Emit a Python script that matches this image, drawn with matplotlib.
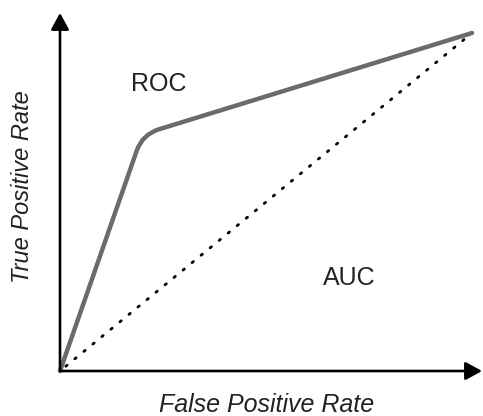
import matplotlib
matplotlib.use("Agg")
import matplotlib.pyplot as plt
from matplotlib.path import Path
from matplotlib.patches import PathPatch
import numpy as np

# Data
roc_fpr = [0.0, 0.2, 1.0]
roc_tpr = [0.0, 0.7, 1.0]
diag_fpr = [0.0, 1.0]
diag_tpr = [0.0, 1.0]
x_label = "False Positive Rate"
y_label = "True Positive Rate"
roc_text = "ROC"
auc_text = "AUC"

W, H = 483, 416
fig = plt.figure(figsize=(W / 100, H / 100), dpi=100)
ax = fig.add_axes([0, 0, 1, 1])
# pixel mapping: x_px = 60 + 412*x ; y_px(top) = 371 - 338*y
x0, sx = 60, 412
y0, sy = 371, 338
ax.set_xlim(-x0 / sx, (W - x0) / sx)
ax.set_ylim((y0 - H) / sy, y0 / sy)
ax.axis("off")

plt.rcParams["font.family"] = ["Liberation Sans", "DejaVu Sans"]

# Diagonal dotted
ax.plot(diag_fpr, diag_tpr, color="black", lw=2.0,
        linestyle=(1.5, (0.6, 3.6)), dash_capstyle="round", zorder=2)

# ROC with rounded corner
O = np.array([roc_fpr[0], roc_tpr[0]])
C = np.array([roc_fpr[1], roc_tpr[1]])
E = np.array([roc_fpr[2], roc_tpr[2]])
A = C + 0.07 * (O - C)
B = C + 0.05 * (E - C)
verts = [tuple(O), tuple(A), tuple(C), tuple(B), tuple(E)]
codes = [Path.MOVETO, Path.LINETO, Path.CURVE3, Path.CURVE3, Path.LINETO]
ax.add_patch(PathPatch(Path(verts, codes), facecolor="none", edgecolor="#6b6b6b",
                       lw=3.2, capstyle="round", joinstyle="round", zorder=3))

# Axes arrows
arrow = dict(arrowstyle="-|>,head_length=1.0,head_width=0.55", color="black",
             lw=1.9, shrinkA=0, shrinkB=0, mutation_scale=10)
ax.annotate("", xy=(0, (y0 - 13) / sy), xytext=(0, 0), arrowprops=arrow, zorder=4)
ax.annotate("", xy=((482 - x0) / sx, 0), xytext=(0, 0), arrowprops=arrow, zorder=4)

def px(xp, yp):
    return (xp / W, 1 - yp / H)

fs = 18
fig.text(*px(159, 84), roc_text, fontsize=fs, ha="center", va="center", color="#222222")
fig.text(*px(349, 278), auc_text, fontsize=fs, ha="center", va="center", color="#222222")
fig.text(*px(267, 405), x_label, fontsize=18, style="italic", ha="center", va="center", color="#222222")
fig.text(*px(23, 187), y_label, fontsize=17, style="italic", ha="center", va="center",
         rotation=90, color="#222222")

fig.savefig("out.png", dpi=100)
